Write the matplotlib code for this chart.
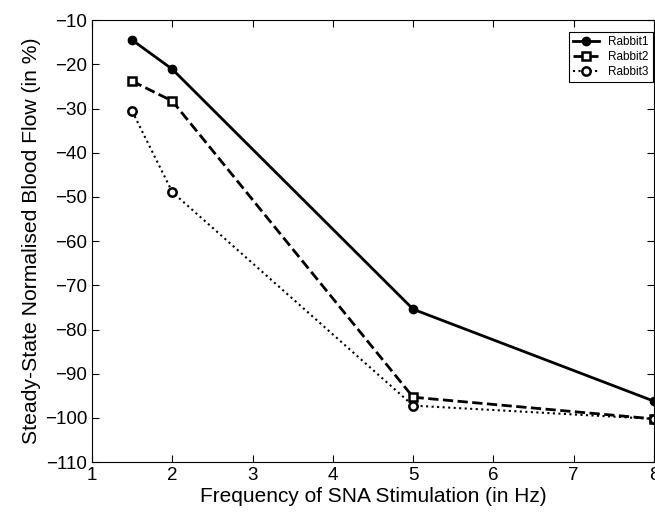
import matplotlib
matplotlib.use('Agg')
import matplotlib.pyplot as plt

plt.rcParams['font.family'] = ['Liberation Sans', 'DejaVu Sans']

# Datos
frecuencia = [1.5, 2, 5, 8]
rabbit1 = [-14.5, -21.1, -75.4, -96.2]
rabbit2 = [-23.8, -28.3, -95.3, -100.2]
rabbit3 = [-30.6, -48.9, -97.2, -100.2]

fig = plt.figure(figsize=(6.55, 5.17), dpi=100)
ax = fig.add_axes([0.1405, 0.106, 0.858, 0.855])

ax.plot(frecuencia, rabbit1, '-', color='black', lw=2, marker='o',
        markersize=6, markerfacecolor='black', label='Rabbit1')
ax.plot(frecuencia, rabbit2, '--', color='black', lw=2, marker='s',
        markersize=6, markerfacecolor='white', markeredgewidth=1.8, label='Rabbit2')
ax.plot(frecuencia, rabbit3, ':', color='black', lw=1.5, marker='o',
        markersize=6, markerfacecolor='white', markeredgewidth=1.8, label='Rabbit3')

ax.set_xlim(1, 8)
ax.set_ylim(-110, -10)
ax.set_xticks(range(1, 9))
ax.set_yticks(range(-110, 0, 10))
ax.tick_params(direction='in', top=True, right=True, labelsize=13.5, length=5)
ax.set_xlabel("Frequency of SNA Stimulation (in Hz)", fontsize=15, labelpad=2)
ax.set_ylabel("Steady-State Normalised Blood Flow (in %)", fontsize=15.2, labelpad=3)

leg = ax.legend(loc='upper left', bbox_to_anchor=(0.838, 0.986), fontsize=8.5,
                fancybox=False, edgecolor='black', framealpha=1,
                handlelength=2.2, borderpad=0.35, labelspacing=0.25)
leg.get_frame().set_linewidth(0.8)

fig.savefig('out.png', dpi=100)
